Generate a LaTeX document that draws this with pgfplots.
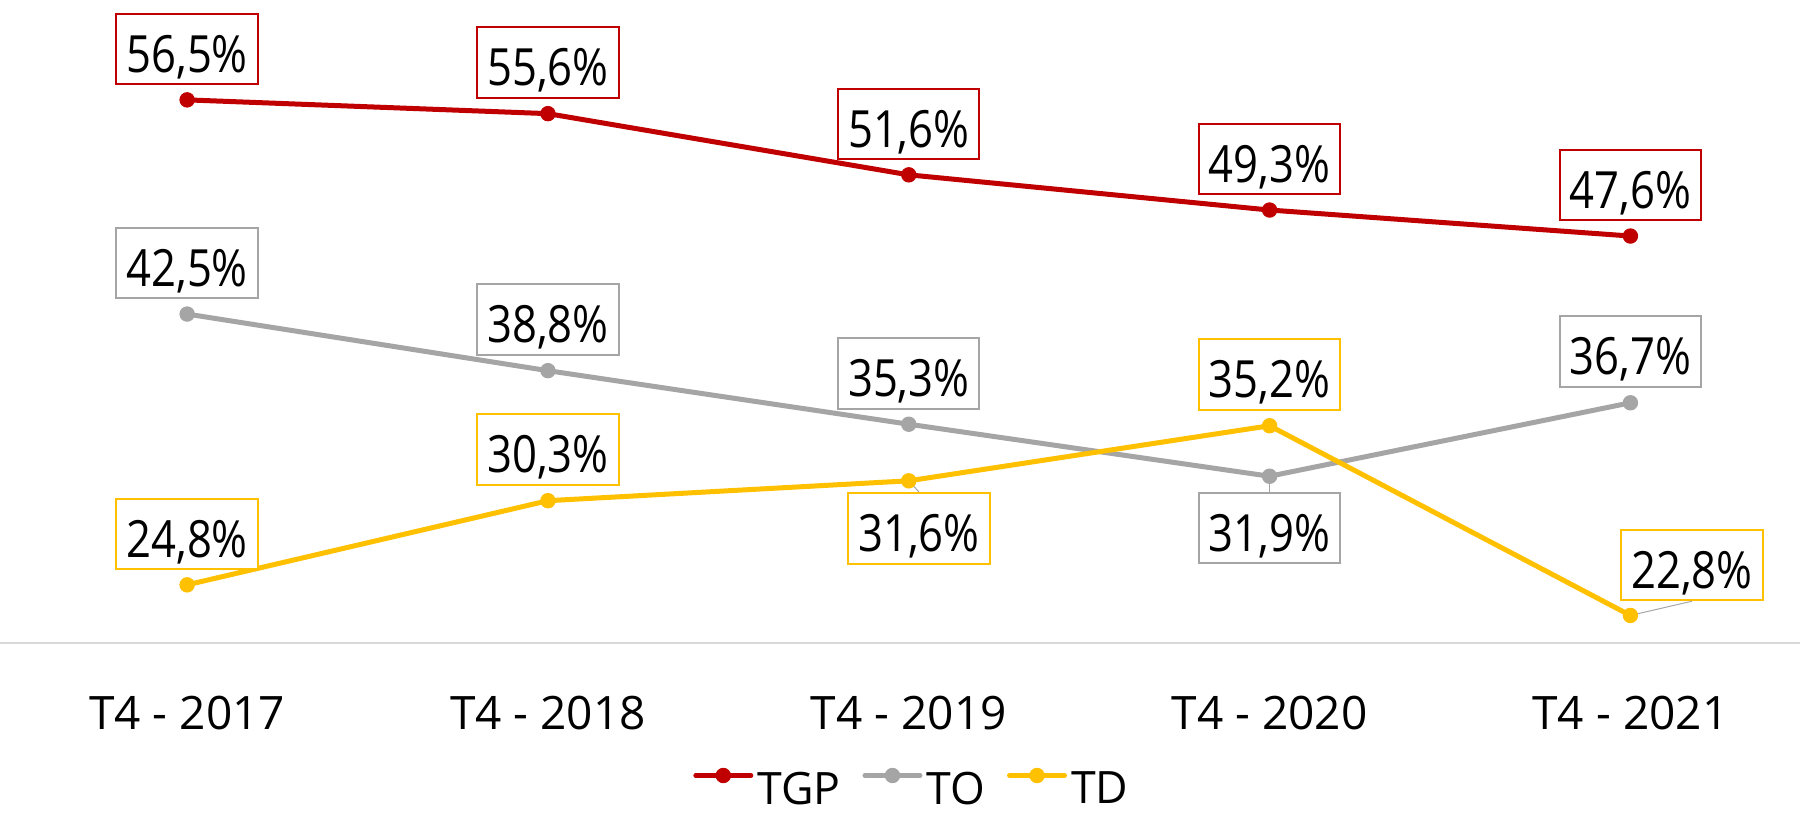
\documentclass[border=0pt]{standalone}
\usepackage{pgfplots}
\pgfplotsset{compat=1.18}
\usepackage{fontspec}
\setmainfont{Open Sans}
\newfontfamily\lblfont[FakeStretch=0.85]{Open Sans}
\definecolor{cTGP}{HTML}{C00000}
\definecolor{cTO}{HTML}{A5A5A5}
\definecolor{cTD}{HTML}{FFC000}
\definecolor{axgray}{HTML}{D9D9D9}
\definecolor{leader}{HTML}{A6A6A6}
\tikzset{lbl/.style={draw=#1, fill=white, line width=0.2mm, inner xsep=1.0mm, inner ysep=0.71mm, minimum width=14.1mm, text height=5.14mm, text depth=0.5mm, font=\fontsize{14.6}{16}\lblfont, text=black}}
\begin{document}
\begin{tikzpicture}
\path[use as bounding box] (0,-17.2mm) rectangle (180mm,64.3mm);
\begin{axis}[
  scale only axis, width=180mm, height=64.3mm,
  xmin=-0.5186, xmax=4.470, ymin=21, ymax=63.03,
  axis x line*=bottom, axis y line=none,
  axis line style={draw=axgray, line width=0.25mm, -},
  xtick={0,1,2,3,4},
  xticklabels={T4 - 2017, T4 - 2018, T4 - 2019, T4 - 2020, T4 - 2021},
  major tick length=0pt,
  xticklabel style={anchor=base, yshift=-8.7mm, inner sep=0pt, font=\fontsize{13.1}{15}\selectfont},
  ytick=\empty,
  clip=false,
  every axis plot/.append style={line width=0.5mm, line join=round, mark=*, mark size=0.72mm, mark options={solid, line width=0.1mm}},
  legend style={draw=none, fill=none, at={(0.506,-0.2598)}, anchor=south, legend columns=3,
    font=\fontsize{12.7}{14}\selectfont, inner sep=0pt, nodes={inner sep=0pt},
    /tikz/every odd column/.append style={column sep=0.4mm},
    /tikz/every even column/.append style={column sep=2.2mm}},
  legend image code/.code={\draw[#1, mark repeat=2, mark phase=2, line cap=round] plot coordinates {(0mm,1.5mm) (2.75mm,1.5mm) (5.5mm,1.5mm)};},
]
\addplot[cTGP] coordinates {(0,56.5) (1,55.6) (2,51.6) (3,49.3) (4,47.6)};
\addlegendentry{TGP}
\addplot[cTO] coordinates {(0,42.5) (1,38.8) (2,35.3) (3,31.9) (4,36.7)};
\addlegendentry{TO}
\addplot[cTD] coordinates {(0,24.8) (1,30.3) (2,31.6) (3,35.2) (4,22.8)};
\addlegendentry{TD}

\node[lbl=cTGP, yshift=5.1mm] at (axis cs:0,56.5) {56,5\%};
\node[lbl=cTGP, yshift=5.1mm] at (axis cs:1,55.6) {55,6\%};
\node[lbl=cTGP, yshift=5.1mm] at (axis cs:2,51.6) {51,6\%};
\node[lbl=cTGP, yshift=5.1mm] at (axis cs:3,49.3) {49,3\%};
\node[lbl=cTGP, yshift=5.1mm] at (axis cs:4,47.6) {47,6\%};

\node[lbl=cTO, yshift=5.1mm] at (axis cs:0,42.5) {42,5\%};
\node[lbl=cTO, yshift=5.1mm] at (axis cs:1,38.8) {38,8\%};
\node[lbl=cTO, yshift=5.1mm] at (axis cs:2,35.3) {35,3\%};
\node[lbl=cTO, yshift=-5.17mm, minimum width=13.4mm] (to3) at (axis cs:3,31.9) {31,9\%};
\node[lbl=cTO, yshift=5.1mm] at (axis cs:4,36.7) {36,7\%};

\node[lbl=cTD, yshift=5.1mm] at (axis cs:0,24.8) {24,8\%};
\node[lbl=cTD, yshift=5.1mm] at (axis cs:1,30.3) {30,3\%};
\node[lbl=cTD, yshift=-4.76mm, xshift=1.03mm, minimum width=13.5mm] (td2) at (axis cs:2,31.6) {31,6\%};
\node[lbl=cTD, yshift=5.1mm] at (axis cs:3,35.2) {35,2\%};
\node[lbl=cTD, yshift=5.05mm, xshift=6.14mm, minimum width=13.9mm] (td4) at (axis cs:4,22.8) {22,8\%};

\draw[leader, line width=0.1mm] (axis cs:3,31.9) -- (to3.north);
\draw[leader, line width=0.1mm] (axis cs:2,31.6) -- (td2.north);
\draw[leader, line width=0.1mm] (axis cs:4,22.8) -- (td4.south);
\end{axis}
\end{tikzpicture}
\end{document}
